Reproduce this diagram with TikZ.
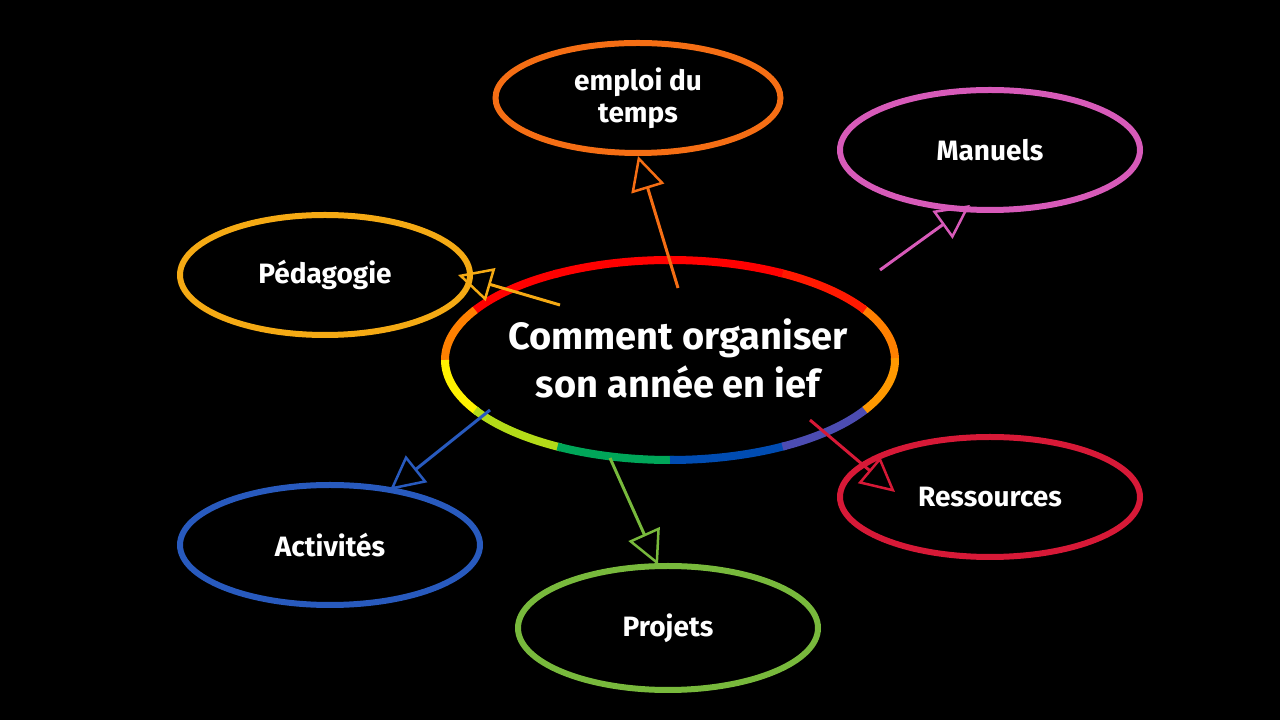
\documentclass[tikz,border=0pt]{standalone}
\usepackage{fontspec}
\setmainfont{Fira Sans}
\usetikzlibrary{shapes.geometric,arrows.meta}
\definecolor{cOr}{RGB}{245,110,20}
\definecolor{cPk}{RGB}{215,90,185}
\definecolor{cYe}{RGB}{245,170,20}
\definecolor{cRd}{RGB}{215,25,55}
\definecolor{cBl}{RGB}{40,90,190}
\definecolor{cGr}{RGB}{120,185,60}
\begin{document}
\begin{tikzpicture}[x=1pt,y=1pt,
  bub/.style={ellipse,draw,line width=6pt,text=white,font=\bfseries\fontsize{28}{32}\selectfont,align=center,inner sep=0pt},
  arr/.style={line width=3pt,-{Triangle[open,length=34pt,width=34pt,line width=2.5pt]}}]
\fill[black] (0,0) rectangle (1280,720);
\useasboundingbox (0,0) rectangle (1280,720);
\node[bub,draw=cOr,minimum width=285,minimum height=110] (emp) at (638,622) {emploi du\\temps};
\node[bub,draw=cPk,minimum width=300,minimum height=120] (man) at (990,570) {Manuels};
\node[bub,draw=cYe,minimum width=290,minimum height=120] (ped) at (325,445) {Pédagogie};
\node[bub,draw=cRd,minimum width=300,minimum height=120] (res) at (990,223) {Ressources};
\node[bub,draw=cBl,minimum width=300,minimum height=120] (act) at (330,175) {Activités};
\node[bub,draw=cGr,minimum width=300,minimum height=124] (pro) at (668,92) {Projets};
\node[text=white,font=\bfseries\fontsize{38}{48}\selectfont,align=center] (c) at (678,362) {Comment organiser\\son année en ief};
\foreach \a/\col in {0/orange,30/red!80!orange,60/red,90/red,120/red,150/orange,180/yellow,210/yellow!70!green,240/teal!70!green,270/teal!60!blue,300/blue!40!gray,330/orange!80!yellow}{
  \draw[\col,line width=8pt] (670,360) ++(\a:225 and 100) arc[start angle=\a,end angle=\a+31,x radius=225,y radius=100];
}
\coordinate (s1) at (678,432); \coordinate (s2) at (880,450);
\coordinate (s3) at (560,415); \coordinate (s4) at (810,300);
\coordinate (s5) at (490,310); \coordinate (s6) at (610,262);
\coordinate (t4) at (895,228);
\draw[arr,cOr] (s1) -- (emp.south);
\draw[arr,cPk] (s2) -- ([xshift=-20pt,yshift=8pt]man.south);
\draw[arr,cYe] (s3) -- ([xshift=-15pt]ped.east);
\draw[arr,cRd] (s4) -- (t4);
\draw[arr,cBl] (s5) -- ([xshift=60pt,yshift=-8pt]act.north);
\draw[arr,cGr] (s6) -- ([xshift=-10pt,yshift=-2pt]pro.north);
\end{tikzpicture}
\end{document}
